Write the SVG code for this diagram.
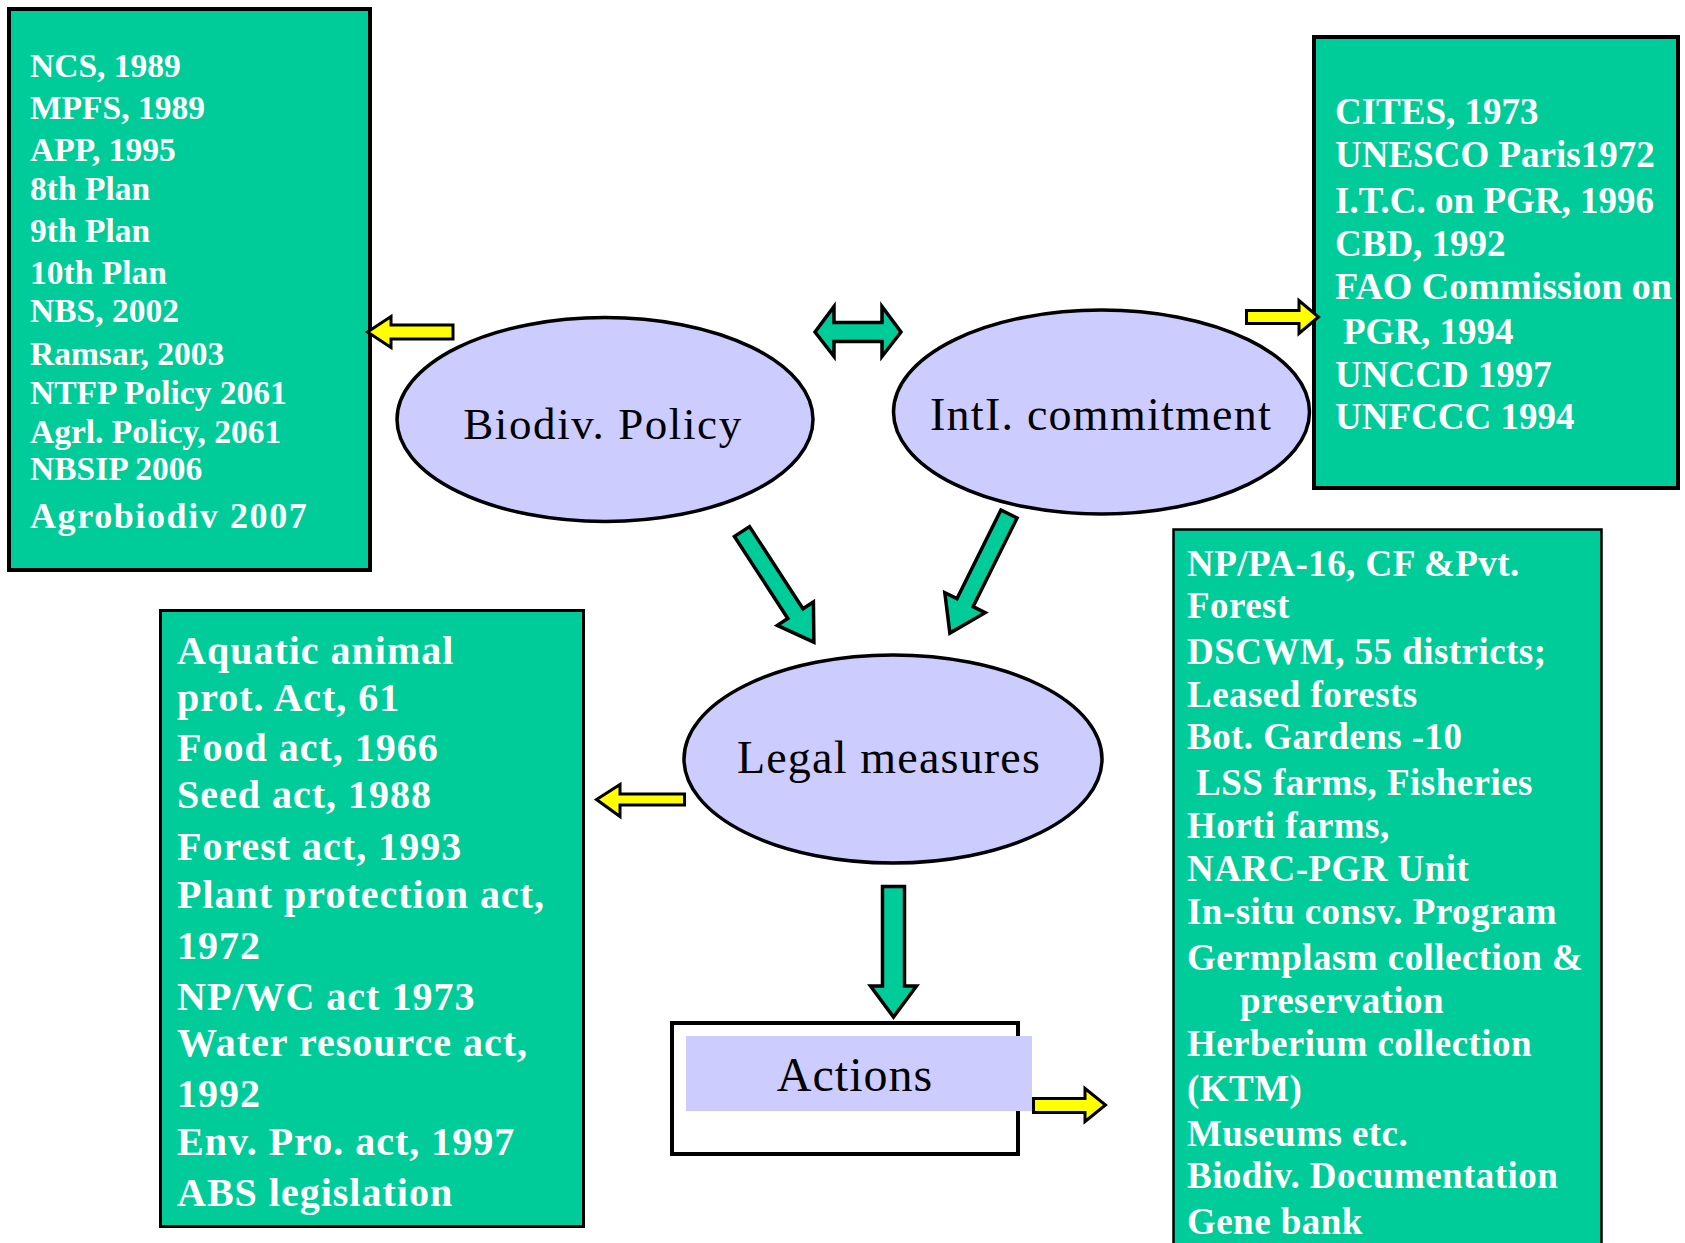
<svg xmlns="http://www.w3.org/2000/svg" width="1685" height="1243" viewBox="0 0 1685 1243">
<style>
.box{fill:#00CC99;stroke:#000;}
.bt{font-family:"Liberation Serif","Times New Roman",serif;font-weight:bold;fill:#fff;}
.ell{fill:#CCCCFF;stroke:#000;stroke-width:3.5;}
.lbl{font-family:"Liberation Serif","Times New Roman",serif;fill:#000;text-anchor:middle;}
.ya{fill:#FFFF00;stroke:#000;stroke-width:3;stroke-linejoin:miter;}
.ga{fill:#00CC99;stroke:#000;stroke-width:3.5;stroke-linejoin:miter;}
</style>
<rect width="1685" height="1243" fill="#fff"/>

<g id="policies">
<rect class="box" x="9" y="9" width="361" height="561" stroke-width="4"/>
<g class="bt" font-size="33.5">
<text x="30" y="77">NCS, 1989</text>
<text x="30" y="119">MPFS, 1989</text>
<text x="30" y="161">APP, 1995</text>
<text x="30" y="200">8th Plan</text>
<text x="30" y="242">9th Plan</text>
<text x="30" y="284">10th Plan</text>
<text x="30" y="322">NBS, 2002</text>
<text x="30" y="365">Ramsar, 2003</text>
<text x="30" y="404">NTFP Policy 2061</text>
<text x="30" y="443">Agrl. Policy, 2061</text>
<text x="30" y="480">NBSIP 2006</text>
<text x="30" y="528" font-size="36" letter-spacing="1.6">Agrobiodiv 2007</text>
</g>
</g>

<g id="commitments">
<rect class="box" x="1314" y="37" width="364" height="451" stroke-width="4"/>
<g class="bt" font-size="37">
<text x="1335" y="124">CITES, 1973</text>
<text x="1335" y="167">UNESCO Paris1972</text>
<text x="1335" y="213">I.T.C. on PGR, 1996</text>
<text x="1335" y="256">CBD, 1992</text>
<text x="1335" y="299" textLength="337" lengthAdjust="spacingAndGlyphs">FAO Commission on</text>
<text x="1343" y="344">PGR, 1994</text>
<text x="1335" y="387">UNCCD 1997</text>
<text x="1335" y="429">UNFCCC 1994</text>
</g>
</g>

<g id="legal-list">
<rect class="box" x="160.5" y="610.5" width="423" height="616" stroke-width="3"/>
<g class="bt" font-size="40" letter-spacing="1">
<text x="177" y="664">Aquatic animal</text>
<text x="177" y="711">prot. Act, 61</text>
<text x="177" y="761">Food act, 1966</text>
<text x="177" y="808">Seed act, 1988</text>
<text x="177" y="860">Forest act, 1993</text>
<text x="177" y="908">Plant protection act,</text>
<text x="177" y="959">1972</text>
<text x="177" y="1010">NP/WC act 1973</text>
<text x="177" y="1056">Water resource act,</text>
<text x="177" y="1107">1992</text>
<text x="177" y="1155">Env. Pro. act, 1997</text>
<text x="177" y="1206">ABS legislation</text>
</g>
</g>

<g id="actions-list">
<rect class="box" x="1173.5" y="529.5" width="428" height="730" stroke-width="2.5"/>
<g class="bt" font-size="37" letter-spacing="0.45">
<text x="1187" y="576">NP/PA-16, CF &amp;Pvt.</text>
<text x="1187" y="618">Forest</text>
<text x="1187" y="664">DSCWM, 55 districts;</text>
<text x="1187" y="707">Leased forests</text>
<text x="1187" y="749">Bot. Gardens -10</text>
<text x="1196" y="795">LSS farms, Fisheries</text>
<text x="1187" y="838">Horti farms,</text>
<text x="1187" y="881">NARC-PGR Unit</text>
<text x="1187" y="924">In-situ consv. Program</text>
<text x="1187" y="970">Germplasm collection &amp;</text>
<text x="1240" y="1013">preservation</text>
<text x="1187" y="1056">Herberium collection</text>
<text x="1187" y="1101">(KTM)</text>
<text x="1187" y="1146">Museums etc.</text>
<text x="1187" y="1188">Biodiv. Documentation</text>
<text x="1187" y="1234">Gene bank</text>
</g>
</g>

<g id="biodiv-policy">
<ellipse class="ell" cx="605" cy="419.5" rx="208" ry="102"/>
<text class="lbl" x="603" y="439" font-size="45" letter-spacing="1.6">Biodiv. Policy</text>
</g>

<g id="intl-commitment">
<ellipse class="ell" cx="1101.5" cy="412" rx="208" ry="102"/>
<text class="lbl" x="1101" y="430" font-size="46" letter-spacing="1.25">IntI. commitment</text>
</g>

<g id="legal-measures">
<ellipse class="ell" cx="893" cy="759" rx="209" ry="104"/>
<text class="lbl" x="889" y="773" font-size="46" letter-spacing="1.2">Legal measures</text>
</g>

<g id="actions">
<rect x="672" y="1023" width="346" height="131" fill="#fff" stroke="#000" stroke-width="4"/>
<rect x="686" y="1036" width="346" height="75" fill="#CCCCFF"/>
<text class="lbl" x="855" y="1091" font-size="48" letter-spacing="1">Actions</text>
</g>

<g id="connectors">
<polygon class="ya" points="453,325 391,325 391,316.5 367.5,332 391,347.5 391,339 453,339"/>
<polygon class="ya" points="1246.5,310.5 1299,310.5 1299,300.5 1318.5,317 1299,333.5 1299,323.5 1246.5,323.5"/>
<polygon class="ya" points="684.5,794 620,794 620,784.5 596.5,799.5 620,816.5 620,805 684.5,805"/>
<polygon class="ya" points="1033.5,1098.5 1085,1098.5 1085,1088.5 1105.5,1105 1085,1121.5 1085,1112.5 1033.5,1112.5"/>
<polygon class="ga" points="815,332 834,306.5 834,322.5 882,322.5 882,306.5 901,332 882,356.5 882,341.5 834,341.5 834,356.5"/>
<polygon class="ga" points="0,-9 98,-9 98,-21.5 132,0 98,21.5 98,9 0,9" transform="translate(742,531.5) rotate(57)"/>
<polygon class="ga" points="0,-9 99,-9 99,-22.5 133,0 99,22.5 99,9 0,9" transform="translate(1009,514) rotate(116.4)"/>
<polygon class="ga" points="882.5,886.5 904.5,886.5 904.5,986 916.5,986 893.5,1017 870.5,986 882.5,986"/>
</g>
</svg>
